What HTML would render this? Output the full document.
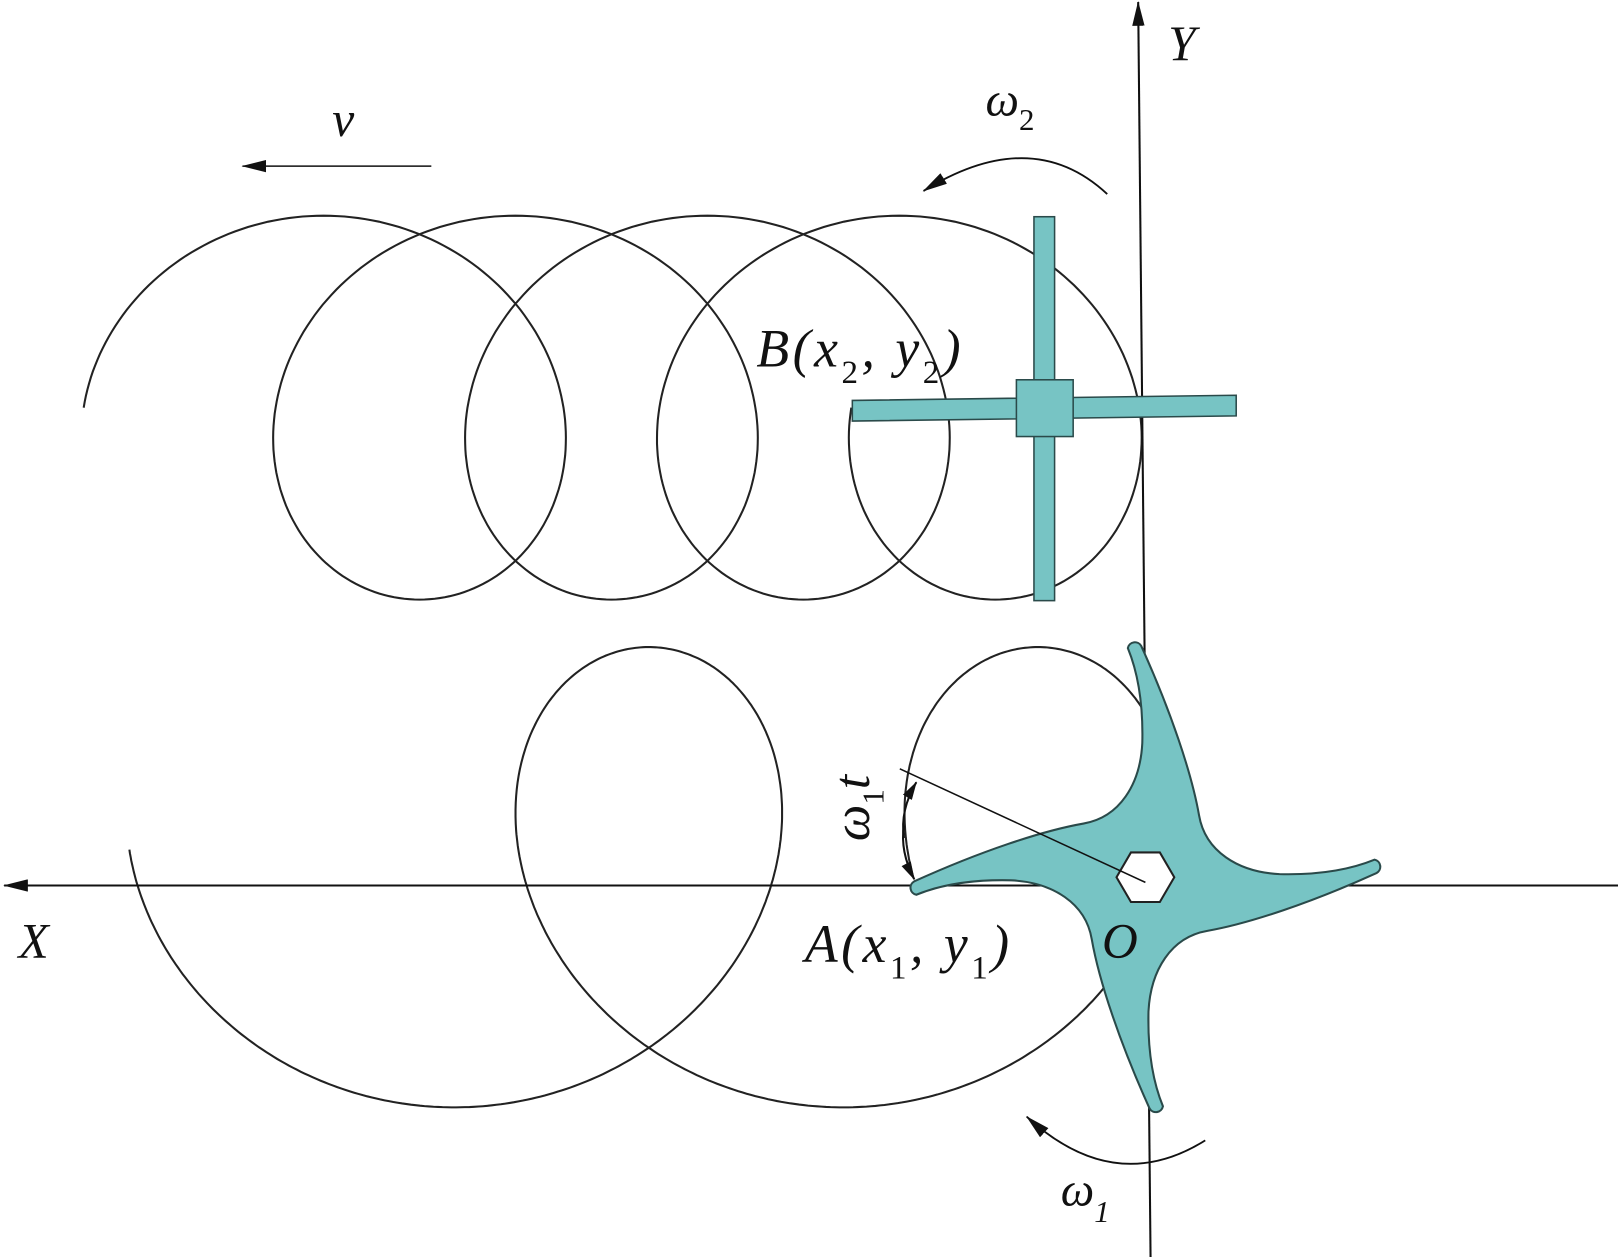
<!DOCTYPE html>
<html><head><meta charset="utf-8"><style>
html,body{margin:0;padding:0;background:#fff;}
svg{display:block;}
text{font-family:"Liberation Serif",serif;font-style:italic;fill:#111;}
</style></head><body>
<svg id="s" width="1618" height="1257" viewBox="0 0 1568 1218" preserveAspectRatio="none" xmlns="http://www.w3.org/2000/svg">
<defs>
<marker id="ah" markerWidth="18" markerHeight="10" refX="17" refY="5" orient="auto" markerUnits="userSpaceOnUse">
<path d="M0,0 L18,5 L0,10 Z" fill="#111"/></marker>
<marker id="ahb" markerWidth="24" markerHeight="12" refX="23" refY="6" orient="auto" markerUnits="userSpaceOnUse">
<path d="M0,0 L24,6 L0,12 Z" fill="#111"/></marker>
</defs>
<path id="top" fill="none" stroke="#222" stroke-width="2"/>
<path id="bot" fill="none" stroke="#222" stroke-width="2"/>
<!-- axes -->
<line x1="1568" y1="858" x2="4" y2="858" stroke="#111" stroke-width="2" marker-end="url(#ahb)"/>
<line x1="1115" y1="1218" x2="1103" y2="2" stroke="#111" stroke-width="2" marker-end="url(#ahb)"/>
<!-- cross -->
<g fill="#77c4c4" stroke="#2a4a4a" stroke-width="1.5">
<rect x="1002" y="210" width="20" height="372"/>
<polygon points="826,388 1198,383 1198,403 826,408"/>
<rect x="985" y="368" width="55" height="55"/>
</g>
<!-- star -->
<g transform="translate(1110,850)">
<path id="star" fill="#77c4c4" stroke="#2a4a4a" stroke-width="2"/>
<polygon points="28,0 14,24 -14,24 -28,0 -14,-24 14,-24" fill="#fff" stroke="#222" stroke-width="2"/>
</g>
<line x1="872" y1="745" x2="1110" y2="855" stroke="#111" stroke-width="1.5"/>
<!-- ω1t double arrow -->
<path d="M876,812 Q872,785 888,758" fill="none" stroke="#111" stroke-width="2" marker-end="url(#ah)"/>
<path d="M876,800 Q872,825 886,852" fill="none" stroke="#111" stroke-width="2" marker-end="url(#ah)"/>
<!-- v arrow -->
<line x1="418" y1="161" x2="235" y2="161" stroke="#111" stroke-width="1.5" marker-end="url(#ahb)"/>
<!-- ω2 arc -->
<path d="M1073,188 Q1000,120 895,185" fill="none" stroke="#111" stroke-width="1.8" marker-end="url(#ahb)"/>
<!-- ω1 arc -->
<path d="M1168,1105 Q1080,1160 995,1082" fill="none" stroke="#111" stroke-width="1.8" marker-end="url(#ahb)"/>
<!-- labels -->
<text x="1132" y="58" font-size="48">Y</text>
<text x="18" y="928" font-size="48">X</text>
<text x="1068" y="928" font-size="48">O</text>
<text x="322" y="132" font-size="48">v</text>
<text x="955" y="112" font-size="46">ω<tspan font-size="30" dy="14" font-style="normal">2</tspan></text>
<text x="1028" y="1168" font-size="46" font-style="normal">ω<tspan font-size="30" dy="16">1</tspan></text>
<text x="733" y="355" font-size="52" textLength="198" lengthAdjust="spacing">B(x<tspan font-size="32" dy="16" font-style="normal">2</tspan><tspan dy="-16">, y</tspan><tspan font-size="32" dy="16" font-style="normal">2</tspan><tspan dy="-16">)</tspan></text>
<text x="780" y="932" font-size="52" textLength="198" lengthAdjust="spacing">A(x<tspan font-size="32" dy="16" font-style="normal">1</tspan><tspan dy="-16">, y</tspan><tspan font-size="32" dy="16" font-style="normal">1</tspan><tspan dy="-16">)</tspan></text>
<text transform="translate(842,815) rotate(-90)" font-size="50">ω<tspan font-size="30" dy="14" font-style="normal">1</tspan><tspan dy="-14">t</tspan></text>
</svg>
<script>
(function(){
 function P(x,y){return x.toFixed(1)+","+y.toFixed(1);}
 var d="",a=186,b=186,k=29.6,X0=1011,cy=395;
 for(var i=0;i<=800;i++){var ph=Math.PI+i*(8*Math.PI)/800;
  var x=X0-k*(ph-Math.PI)+a*Math.cos(ph),y=cy-b*Math.sin(ph);
  d+=(i?"L":"M")+P(x,y);}
 document.getElementById("top").setAttribute("d",d);
 d="";var A=215,B=223,K=60,X1=1100,cy2=850;
 var smax=4*Math.PI+0.12;
 for(var i=0;i<=800;i++){var s=i*smax/800;var ph=Math.PI-s;
  var x=X1-K*s+A*Math.cos(ph),y=cy2-B*Math.sin(ph);
  d+=(i?"L":"M")+P(x,y);}
 document.getElementById("bot").setAttribute("d",d);
 var pts=[[-222,17],[-224,4],[-160,-25],[-100,-45],[-60,-52],[-25,-58],[-5,-90],[-3,-130],[-2,-170],[-8,-200],[-17,-222]];
 function rot(p,n){var x=p[0],y=p[1];for(var j=0;j<n;j++){var t=x;x=-y;y=t;}return [x,y];}
 var sd="";
 for(var n=0;n<4;n++){var q=pts.map(function(p){return rot(p,n);});
  if(n==0)sd+="M"+q[0].join(",");
  sd+="A7,7 0 0 1 "+q[1].join(",");
  sd+="C"+q[2].join(",")+" "+q[3].join(",")+" "+q[4].join(",");
  sd+="C"+q[5].join(",")+" "+q[6].join(",")+" "+q[7].join(",");
  sd+="C"+q[8].join(",")+" "+q[9].join(",")+" "+q[10].join(",");}
 document.getElementById("star").setAttribute("d",sd+"Z");
})();
</script>
</body></html>
